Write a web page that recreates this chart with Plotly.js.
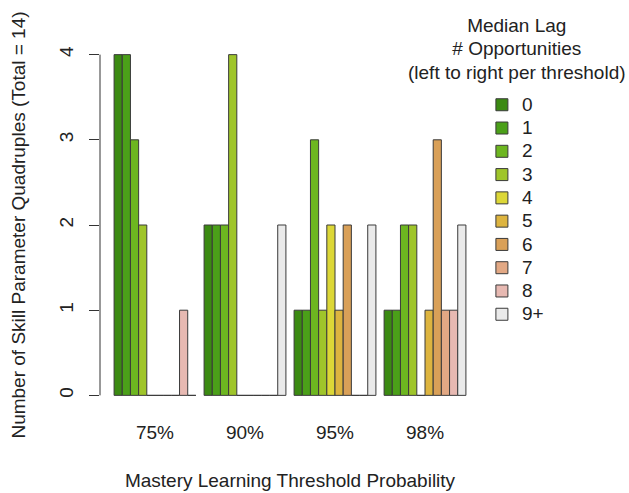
<!DOCTYPE html>
<html>
<head>
<meta charset="utf-8">
<script src="https://cdn.plot.ly/plotly-3.0.1.min.js"></script>
<style>html,body{margin:0;padding:0;background:#fff;}#chart{width:629px;height:493px;}</style>
</head>
<body>
<div id="chart"></div>
<script>
const thresholds = ["75%", "90%", "95%", "98%"];
const lagLabels = ["0", "1", "2", "3", "4", "5", "6", "7", "8", "9+"];
const legendTitle = ["Median Lag", "# Opportunities", "(left to right per threshold)"];
// values per lag category, for thresholds 75%, 90%, 95%, 98%
const lag0  = [4, 2, 1, 1];
const lag1  = [4, 2, 1, 1];
const lag2  = [3, 2, 3, 2];
const lag3  = [2, 4, 1, 2];
const lag4  = [0, 0, 2, 0];
const lag5  = [0, 0, 1, 1];
const lag6  = [0, 0, 2, 3];
const lag7  = [0, 0, 0, 1];
const lag8  = [1, 0, 0, 1];
const lag9p = [0, 2, 2, 2];
const counts = [lag0, lag1, lag2, lag3, lag4, lag5, lag6, lag7, lag8, lag9p];
const colors = ["#3B8A12", "#4BA019", "#6DB620", "#9FC52A", "#DCD737",
                "#DDB43F", "#D9A058", "#E2A884", "#E7B9B2", "#EAEAEA"];

const big = t => "<span style='font-size:19px'>" + t + "</span>";

const traces = lagLabels.map((lab, i) => ({
  type: "bar",
  name: big(lab),
  x: thresholds,
  y: counts[i],
  marker: {color: colors[i], line: {color: "#3a3a3a", width: 1}},
  hoverinfo: "x+y"
}));

const fam = "Liberation Sans, Arial, sans-serif";
const font = {family: fam, size: 19, color: "#222"};

const layout = {
  width: 629, height: 493,
  margin: {l: 100, r: 149, t: 41, b: 84, pad: 0, autoexpand: false},
  paper_bgcolor: "#fff", plot_bgcolor: "#fff",
  font: font,
  barmode: "group", bargap: 1/11, bargroupgap: 0,
  showlegend: true,
  xaxis: {
    type: "category", range: [-0.611, 3.611],
    showline: false, showgrid: false, zeroline: false, ticks: "",
    ticklabelstandoff: 10, tickfont: font,
    title: {text: "Mastery Learning Threshold Probability", font: font, standoff: 31},
    automargin: false
  },
  yaxis: {
    range: [-0.16, 4.16], tickvals: [0, 1, 2, 3, 4],
    showline: false, showgrid: false, zeroline: false,
    ticks: "outside", ticklen: 10, tickcolor: "#333", tickwidth: 1,
    tickangle: -90, ticklabelstandoff: 8, tickfont: font,
    title: {text: "Number of Skill Parameter Quadruples (Total = 14)", font: font, standoff: 25},
    automargin: false
  },
  shapes: [{
    type: "line", xref: "paper", yref: "y", x0: 0, x1: 0, y0: 0, y1: 4,
    line: {color: "#333", width: 1}
  }],
  annotations: [{
    xref: "paper", yref: "paper", x: 1.097, y: 0.977, xanchor: "center", yanchor: "middle",
    text: legendTitle.map(big).join("<br>"), align: "center", showarrow: false,
    font: {family: fam, size: 18, color: "#222"}
  }],
  legend: {
    x: 1.005, xanchor: "left", y: 0.872, yanchor: "top",
    font: {family: fam, size: 15.6, color: "#222"}, bgcolor: "rgba(0,0,0,0)",
    itemwidth: 30, tracegroupgap: 0, maxheight: 1
  }
};

Plotly.newPlot("chart", traces, layout, {displayModeBar: false, staticPlot: true});
</script>
</body>
</html>
